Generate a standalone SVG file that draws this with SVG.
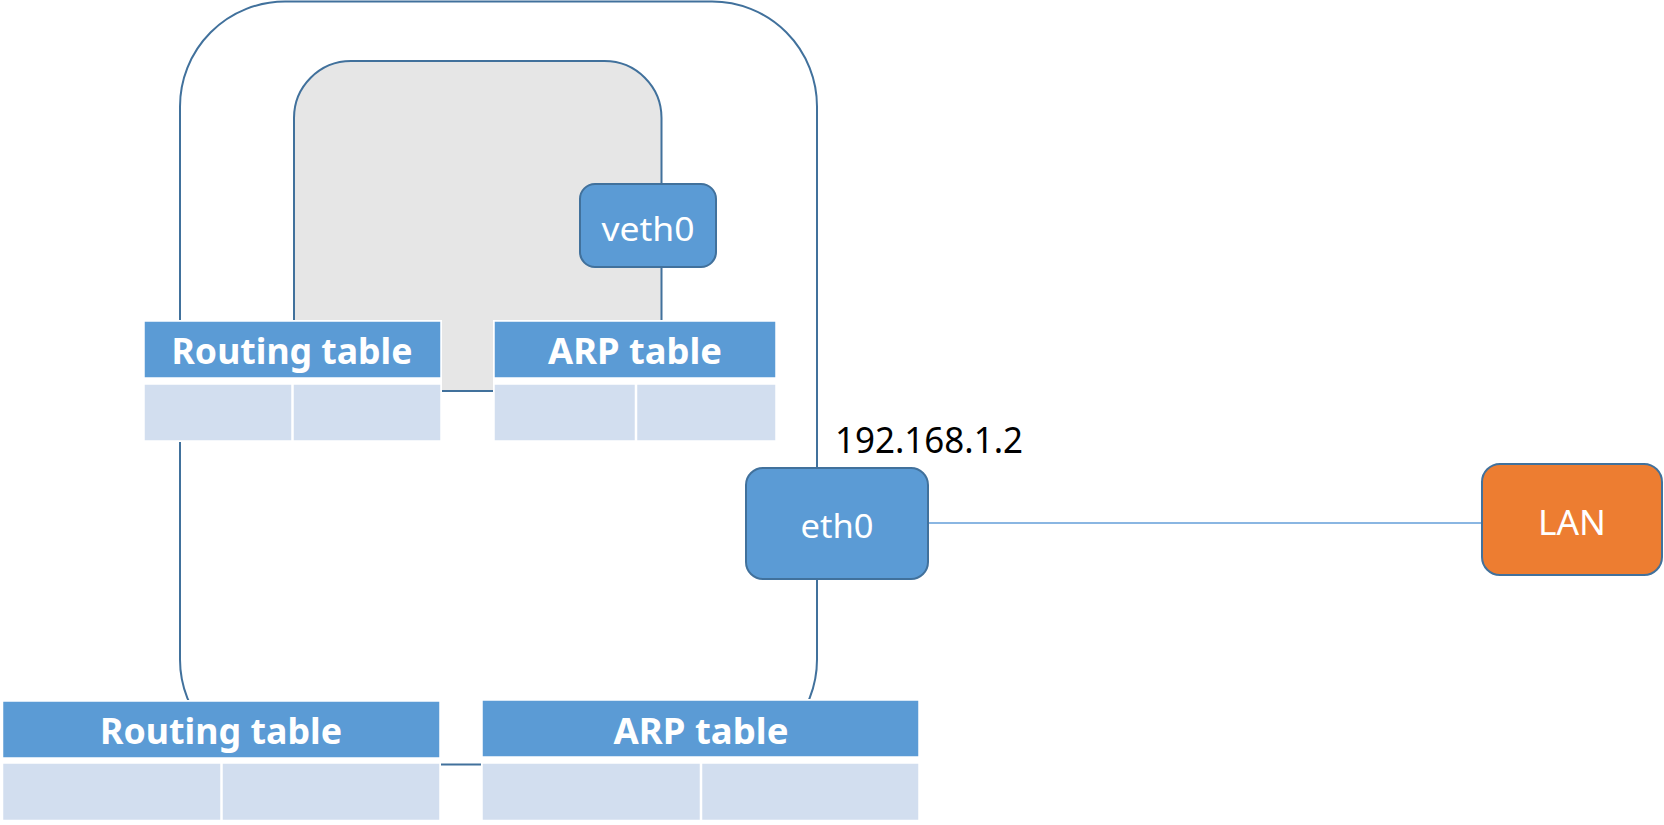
<svg xmlns="http://www.w3.org/2000/svg" width="1664" height="825" viewBox="0 0 1664 825">
<style>
.frame{fill:none;stroke:#41719c;stroke-width:2}
.ns{fill:#e6e6e6;stroke:#41719c;stroke-width:2}
.bg{fill:#ffffff}
.hdr{fill:#5b9bd5;stroke:#ffffff;stroke-width:1.5}
.cell{fill:#d2deef;stroke:#ffffff;stroke-width:1.5}
.htxt{font-family:"Noto Sans","Open Sans",sans-serif;font-weight:bold;font-size:36px;fill:#ffffff;text-anchor:middle}
.nic{fill:#5b9bd5;stroke:#41719c;stroke-width:2}
.lan{fill:#ed7d31;stroke:#41719c;stroke-width:2}
.ntxt{font-family:"Noto Sans","Open Sans",sans-serif;font-size:32px;fill:#ffffff;text-anchor:middle}
.lbl{font-family:"Noto Sans","Open Sans",sans-serif;font-size:37px;fill:#000000}
.conn{stroke:#8ab6e2;stroke-width:2;fill:none}
</style>
<rect width="1664" height="825" fill="#ffffff"/>
<g id="host">
<rect class="frame" x="180" y="1.5" width="637" height="763" rx="105" ry="105"/>
</g>
<g id="namespace">
<rect class="ns" x="294" y="61" width="367.5" height="330" rx="57" ry="57"/>
</g>
<g id="connectors">
<line class="conn" x1="928" y1="523" x2="1482" y2="523"/>
</g>
<g id="ns-routing-table">
<rect class="bg" x="143" y="320" width="299" height="122"/>
<rect class="hdr" x="144" y="321" width="297" height="57"/>
<rect class="cell" x="144" y="384" width="148" height="57"/>
<rect class="cell" x="293" y="384" width="148" height="57"/>
<text class="htxt" x="292" y="364" textLength="241" lengthAdjust="spacingAndGlyphs">Routing table</text>
</g>
<g id="ns-arp-table">
<rect class="bg" x="493" y="320" width="284" height="122"/>
<rect class="hdr" x="494" y="321" width="282" height="57"/>
<rect class="cell" x="494" y="384" width="141.5" height="57"/>
<rect class="cell" x="636.5" y="384" width="139.5" height="57"/>
<text class="htxt" x="635" y="364" textLength="174" lengthAdjust="spacingAndGlyphs">ARP table</text>
</g>
<g id="host-routing-table">
<rect class="bg" x="1.5" y="700" width="439.5" height="122"/>
<rect class="hdr" x="2.5" y="701" width="437.5" height="57"/>
<rect class="cell" x="2.5" y="763" width="218.5" height="57.5"/>
<rect class="cell" x="222" y="763" width="218" height="57.5"/>
<text class="htxt" x="221" y="744" textLength="242" lengthAdjust="spacingAndGlyphs">Routing table</text>
</g>
<g id="host-arp-table">
<rect class="bg" x="481" y="699" width="439" height="123"/>
<rect class="hdr" x="482" y="700" width="437" height="57"/>
<rect class="cell" x="482" y="763" width="218.5" height="57.5"/>
<rect class="cell" x="701.5" y="763" width="217.5" height="57.5"/>
<text class="htxt" x="701" y="744" textLength="175" lengthAdjust="spacingAndGlyphs">ARP table</text>
</g>
<g id="veth0">
<rect class="nic" x="580" y="184" width="136" height="83" rx="15" ry="15"/>
<text class="ntxt" x="648" y="241" textLength="93" lengthAdjust="spacingAndGlyphs">veth0</text>
</g>
<g id="eth0">
<rect class="nic" x="746" y="468" width="182" height="111" rx="17" ry="17"/>
<text class="ntxt" x="837" y="538" textLength="73" lengthAdjust="spacingAndGlyphs">eth0</text>
</g>
<g id="ip-label">
<text class="lbl" x="835" y="453" textLength="188" lengthAdjust="spacingAndGlyphs">192.168.1.2</text>
</g>
<g id="lan">
<rect class="lan" x="1482" y="464" width="180" height="111" rx="18" ry="18"/>
<text class="ntxt" x="1572" y="535" style="font-size:35px" textLength="68" lengthAdjust="spacingAndGlyphs">LAN</text>
</g>
</svg>
